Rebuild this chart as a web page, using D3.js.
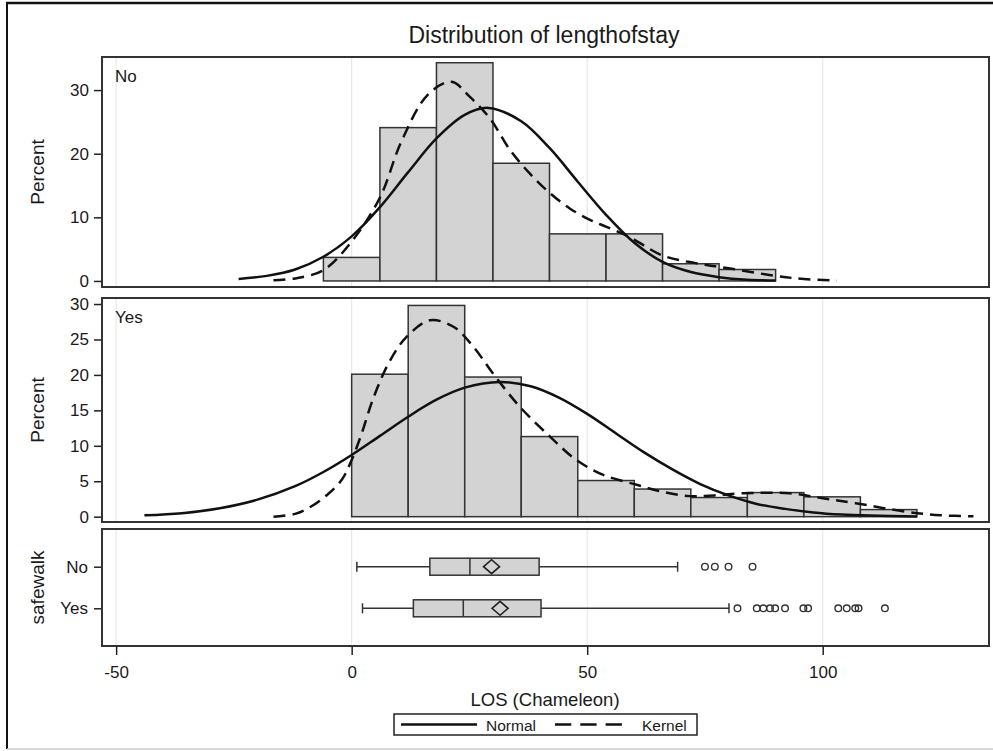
<!DOCTYPE html>
<html>
<head>
<meta charset="utf-8">
<script src="https://cdn.jsdelivr.net/npm/d3@7"></script>
<style>
  body { margin: 0; background: #fff; }
  text { font-family: "Liberation Sans", Arial, sans-serif; fill: #1a1a1a; }
</style>
</head>
<body>
<div id="chart"></div>
<script>
// histogram bins (midpoints, percent), bin width 12
var binWidth = 12;
var binsNo = [0, 12, 24, 36, 48, 60, 72, 84];
var pctNo = [3.7, 24.1, 34.3, 18.5, 7.4, 7.4, 2.7, 1.8];
var binsYes = [6, 18, 30, 42, 54, 66, 78, 90, 102, 114];
var pctYes = [20.1, 29.8, 19.7, 11.3, 5.1, 3.9, 2.7, 3.4, 2.8, 1.0];

// fitted curves [LOS, percent]
var normalNo = [[-24, 0.3], [-18, 0.8], [-12, 1.8], [-6, 3.8], [0, 7.0], [6, 11.6], [12, 17.1], [18, 22.4],
  [24, 26.1], [29, 27.2], [36, 25.1], [42, 20.9], [48, 15.6], [54, 10.4], [60, 6.0], [66, 3.0],
  [72, 1.4], [78, 0.6], [84, 0.2], [90, 0.07]];
var kernelNo = [[-16.6, 0.1], [-12, 0.4], [-6, 1.7], [0, 6.2], [6, 13.1], [10.6, 22.0], [16.2, 29.3],
  [21.2, 31.3], [25, 29.0], [29.4, 25.5], [33.6, 20.6], [37.8, 16.9], [42.1, 13.8], [46.3, 11.4],
  [50.6, 9.6], [54.1, 8.5], [59, 6.9], [66, 4.0], [73, 2.8], [80, 2.0], [90, 0.8], [96, 0.3], [103, 0.05]];
var normalYes = [[-44, 0.2], [-36, 0.5], [-28, 1.2], [-20, 2.4], [-12, 4.3], [-6, 6.3], [0, 8.7], [6, 11.4],
  [12, 14.1], [18, 16.5], [24, 18.2], [31.5, 19.0], [38, 18.4], [44, 16.8], [50, 14.5], [56, 11.8],
  [62, 9.1], [68, 6.7], [74, 4.6], [80, 3.0], [86, 1.8], [92, 1.1], [98, 0.6], [104, 0.3], [110, 0.15], [120, 0.04]];
var kernelYes = [[-16.6, 0], [-12, 0.4], [-8.7, 1.4], [-5, 3.2], [-2.1, 5.2], [0, 8.0], [2, 11.5], [4.7, 16.9],
  [8.2, 22.1], [11.7, 25.4], [16.6, 27.7], [21.6, 26.8], [25.8, 24.0], [30, 20.2], [35.7, 15.5],
  [42.1, 11.3], [47.7, 8.0], [53.4, 5.9], [60.5, 4.5], [66, 3.5], [71.8, 2.9], [77, 3.0], [83, 3.3],
  [93, 3.3], [100, 2.6], [107, 1.9], [117.7, 0.7], [125, 0.2], [132, 0.05]];

// box plot stats by safewalk
var groups = ["No", "Yes"];
var whiskLo = [1.1, 2.3];
var q1 = [16.6, 13.1];
var median = [25.1, 23.7];
var mean = [29.7, 31.5];
var q3 = [39.8, 40.2];
var whiskHi = [69.2, 80.1];
var outliers = [
  [75.0, 77.1, 80.0, 85.1],
  [81.9, 86.0, 87.4, 88.8, 89.9, 92.0, 95.9, 96.9, 103.3, 105.1, 106.9, 107.6, 113.2]
];

var xTicks = [-50, 0, 50, 100];
var width = 993, height = 751;
var left = 102, right = 989;

var svg = d3.select("#chart").append("svg")
  .attr("width", width).attr("height", height);

// outer frame
svg.append("line").attr("x1", 7).attr("x2", 7).attr("y1", 3).attr("y2", 749)
  .attr("stroke", "#111").attr("stroke-width", 2);
svg.append("line").attr("x1", 6).attr("x2", 993).attr("y1", 3).attr("y2", 3)
  .attr("stroke", "#111").attr("stroke-width", 2.5);
svg.append("line").attr("x1", 7).attr("x2", 993).attr("y1", 749).attr("y2", 749)
  .attr("stroke", "#ccc").attr("stroke-width", 1.5);

svg.append("text").attr("x", 544).attr("y", 43).attr("text-anchor", "middle")
  .style("font-size", "23px").text("Distribution of lengthofstay");

var x = d3.scaleLinear().domain([-53, 135.3]).range([left, right]);

function styleAxis(g, size) {
  g.select(".domain").remove();
  g.selectAll("line").attr("stroke", "#222").attr("stroke-width", 1.5);
  g.selectAll("text").style("font-size", size).attr("fill", "#1a1a1a")
    .style("font-family", "Liberation Sans, Arial, sans-serif");
}

function grid(top, bottom) {
  svg.append("g").selectAll("line").data(xTicks).enter().append("line")
    .attr("x1", function(d) { return x(d); }).attr("x2", function(d) { return x(d); })
    .attr("y1", top).attr("y2", bottom)
    .attr("stroke", "#e4e4e4").attr("stroke-width", 1);
}

function histPanel(top, bottom, domain, ticks, bins, pct, normal, kernel, label) {
  var y = d3.scaleLinear().domain(domain).range([bottom, top]);
  grid(top, bottom);

  svg.append("g").attr("transform", "translate(" + left + ",0)")
    .call(d3.axisLeft(y).tickValues(ticks).tickSize(8).tickPadding(5))
    .call(function(g) { styleAxis(g, "17px"); });

  svg.append("g").selectAll("rect").data(bins).enter().append("rect")
    .attr("x", function(d) { return x(d - binWidth / 2); })
    .attr("width", function(d) { return x(d + binWidth / 2) - x(d - binWidth / 2); })
    .attr("y", function(d, i) { return y(pct[i]); })
    .attr("height", function(d, i) { return y(0) - y(pct[i]); })
    .attr("fill", "#d3d3d3").attr("stroke", "#333").attr("stroke-width", 1.5);

  var path = d3.line()
    .x(function(d) { return x(d[0]); })
    .y(function(d) { return y(d[1]); })
    .curve(d3.curveCatmullRom.alpha(0.5));

  svg.append("path").datum(normal).attr("d", path)
    .attr("fill", "none").attr("stroke", "#111").attr("stroke-width", 2.5);
  svg.append("path").datum(kernel).attr("d", path)
    .attr("fill", "none").attr("stroke", "#111").attr("stroke-width", 2.5)
    .attr("stroke-dasharray", "12,7");

  svg.append("rect").attr("x", left).attr("y", top)
    .attr("width", right - left).attr("height", bottom - top)
    .attr("fill", "none").attr("stroke", "#333").attr("stroke-width", 2);

  svg.append("text").attr("x", left + 13).attr("y", top + 25)
    .style("font-size", "17px").text(label);

  svg.append("text")
    .attr("transform", "translate(44," + ((top + bottom) / 2) + ") rotate(-90)")
    .attr("text-anchor", "middle").style("font-size", "19px").text("Percent");
}

histPanel(57, 287, [-0.95, 35.2], [0, 10, 20, 30], binsNo, pctNo, normalNo, kernelNo, "No");
histPanel(298, 522, [-0.75, 30.85], [0, 5, 10, 15, 20, 25, 30], binsYes, pctYes, normalYes, kernelYes, "Yes");

// box plot panel
var bTop = 529, bBottom = 646;
var yb = d3.scalePoint().domain(groups).range([566.7, 608.3]);
grid(bTop, bBottom);

svg.append("g").attr("transform", "translate(" + left + ",0)")
  .call(d3.axisLeft(yb).tickSize(8).tickPadding(6))
  .call(function(g) { styleAxis(g, "17px"); });

var boxH = 17;
var bx = svg.append("g").selectAll("g").data(groups).enter().append("g");
bx.append("line")
  .attr("x1", function(d, i) { return x(whiskLo[i]); }).attr("x2", function(d, i) { return x(whiskHi[i]); })
  .attr("y1", function(d) { return yb(d); }).attr("y2", function(d) { return yb(d); })
  .attr("stroke", "#333").attr("stroke-width", 1.5);
[whiskLo, whiskHi].forEach(function(arr) {
  bx.append("line")
    .attr("x1", function(d, i) { return x(arr[i]); }).attr("x2", function(d, i) { return x(arr[i]); })
    .attr("y1", function(d) { return yb(d) - 5; }).attr("y2", function(d) { return yb(d) + 5; })
    .attr("stroke", "#333").attr("stroke-width", 1.5);
});
bx.append("rect")
  .attr("x", function(d, i) { return x(q1[i]); })
  .attr("width", function(d, i) { return x(q3[i]) - x(q1[i]); })
  .attr("y", function(d) { return yb(d) - boxH / 2; }).attr("height", boxH)
  .attr("fill", "#d3d3d3").attr("stroke", "#333").attr("stroke-width", 1.5);
bx.append("line")
  .attr("x1", function(d, i) { return x(median[i]); }).attr("x2", function(d, i) { return x(median[i]); })
  .attr("y1", function(d) { return yb(d) - boxH / 2; }).attr("y2", function(d) { return yb(d) + boxH / 2; })
  .attr("stroke", "#333").attr("stroke-width", 1.5);
bx.append("path")
  .attr("d", function(d, i) {
    var cx = x(mean[i]), cy = yb(d), rx = 8, ry = 7;
    return "M" + (cx - rx) + "," + cy + "L" + cx + "," + (cy - ry) + "L" + (cx + rx) + "," + cy + "L" + cx + "," + (cy + ry) + "Z";
  })
  .attr("fill", "none").attr("stroke", "#222").attr("stroke-width", 1.6);
bx.each(function(d, i) {
  d3.select(this).selectAll("circle").data(outliers[i]).enter().append("circle")
    .attr("cx", function(v) { return x(v); }).attr("cy", yb(d)).attr("r", 3.3)
    .attr("fill", "none").attr("stroke", "#333").attr("stroke-width", 1.4);
});

svg.append("rect").attr("x", left).attr("y", bTop)
  .attr("width", right - left).attr("height", bBottom - bTop)
  .attr("fill", "none").attr("stroke", "#333").attr("stroke-width", 2);

svg.append("text")
  .attr("transform", "translate(44," + ((bTop + bBottom) / 2) + ") rotate(-90)")
  .attr("text-anchor", "middle").style("font-size", "19px").text("safewalk");

// x axis
svg.append("g").attr("transform", "translate(0," + bBottom + ")")
  .call(d3.axisBottom(x).tickValues(xTicks).tickSize(9).tickPadding(11)
    .tickFormat(function(d) { return String(d); }))
  .call(function(g) { styleAxis(g, "17px"); });

svg.append("text").attr("x", 545).attr("y", 706).attr("text-anchor", "middle")
  .style("font-size", "18.5px").text("LOS (Chameleon)");

// legend
var lg = svg.append("g");
lg.append("rect").attr("x", 394).attr("y", 714).attr("width", 303).attr("height", 21)
  .attr("fill", "#fff").attr("stroke", "#222").attr("stroke-width", 1.5);
lg.append("line").attr("x1", 401).attr("x2", 477).attr("y1", 724.5).attr("y2", 724.5)
  .attr("stroke", "#111").attr("stroke-width", 2.5);
lg.append("text").attr("x", 486).attr("y", 730.5).style("font-size", "15.5px").text("Normal");
lg.append("line").attr("x1", 555).attr("x2", 622).attr("y1", 724.5).attr("y2", 724.5)
  .attr("stroke", "#111").attr("stroke-width", 2.5).attr("stroke-dasharray", "16.3,9");
lg.append("text").attr("x", 642).attr("y", 730.5).style("font-size", "15.5px").text("Kernel");
</script>
</body>
</html>
